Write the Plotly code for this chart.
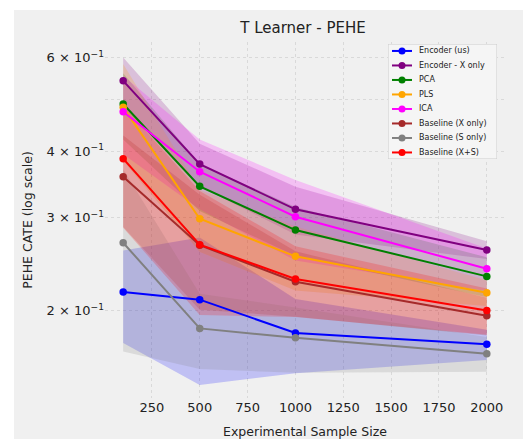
import plotly.graph_objects as go

sample_sizes = [100, 500, 1000, 2000]

series_names = ["Encoder (us)", "Encoder - X only", "PCA", "PLS", "ICA",
                "Baseline (X only)", "Baseline (S only)", "Baseline (X+S)"]
series_colors = ["#0000ff", "#800080", "#008000", "#ffa500", "#ff00ff",
                 "#a52a2a", "#808080", "#ff0000"]

enc_us_mean = [0.217, 0.210, 0.1817, 0.173]
enc_us_std = [0.043, 0.065, 0.029, 0.0114]
enc_x_mean = [0.5425, 0.378, 0.3107, 0.2604]
enc_x_std = [0.058, 0.035, 0.032, 0.010]
pca_mean = [0.4905, 0.3433, 0.284, 0.2323]
pca_std = [0.07, 0.035, 0.030, 0.020]
pls_mean = [0.4835, 0.2983, 0.2534, 0.2164]
pls_std = [0.10, 0.040, 0.035, 0.012]
ica_mean = [0.4745, 0.3657, 0.3009, 0.2401]
ica_std = [0.08, 0.055, 0.052, 0.022]
base_x_mean = [0.3579, 0.266, 0.227, 0.1958]
base_x_std = [0.07, 0.065, 0.032, 0.016]
base_s_mean = [0.2688, 0.1854, 0.178, 0.1661]
base_s_std = [0.101, 0.030, 0.025, 0.0125]
base_xs_mean = [0.387, 0.2665, 0.2297, 0.2004]
base_xs_std = [0.10, 0.070, 0.035, 0.020]

means = [enc_us_mean, enc_x_mean, pca_mean, pls_mean, ica_mean,
         base_x_mean, base_s_mean, base_xs_mean]
stds = [enc_us_std, enc_x_std, pca_std, pls_std, ica_std,
        base_x_std, base_s_std, base_xs_std]

y_tick_vals = [0.2, 0.3, 0.4, 0.5, 0.6]
y_tick_text = ["2 × 10<sup>−1</sup>", "3 × 10<sup>−1</sup>", "4 × 10<sup>−1</sup>",
               "", "6 × 10<sup>−1</sup>"]
x_tick_vals = [250, 500, 750, 1000, 1250, 1500, 1750, 2000]

# ---- layout constants (pixels) ----
W, H = 523, 439
PL, PR, PT, PB = 105, 505, 42, 398          # plot area
LEG_L, LEG_R, LEG_T, LEG_B = 388, 497, 44, 159  # legend box


def rgba(hex_color, a):
    h = hex_color.lstrip("#")
    r, g, b = int(h[0:2], 16), int(h[2:4], 16), int(h[4:6], 16)
    return f"rgba({r},{g},{b},{a})"


def px_x(p):
    return (p - PL) / (PR - PL)


def px_y(p):
    return 1 - (p - PT) / (PB - PT)


fig = go.Figure()

# Uncertainty bands
for name, color, m, s in zip(series_names, series_colors, means, stds):
    upper = [a + b for a, b in zip(m, s)]
    lower = [a - b for a, b in zip(m, s)]
    fig.add_trace(go.Scatter(
        x=sample_sizes + sample_sizes[::-1],
        y=upper + lower[::-1],
        fill="toself", fillcolor=rgba(color, 0.2),
        line=dict(width=0), mode="lines",
        showlegend=False, hoverinfo="skip"))

# Mean lines
for name, color, m in zip(series_names, series_colors, means):
    fig.add_trace(go.Scatter(
        x=sample_sizes, y=m, name=name, mode="lines+markers",
        line=dict(color=color, width=2),
        marker=dict(color=color, size=7.5), showlegend=False))

# ---- compact legend drawn on an auxiliary (hidden) subplot ----
font_family = "DejaVu Sans, Liberation Sans, sans-serif"
n = len(series_names)
for i, (name, color) in enumerate(zip(series_names, series_colors)):
    fig.add_trace(go.Scatter(
        x=[4, 24], y=[i, i], mode="lines", line=dict(color=color, width=2),
        xaxis="x2", yaxis="y2", showlegend=False, hoverinfo="skip"))
    fig.add_trace(go.Scatter(
        x=[14], y=[i], mode="markers", marker=dict(color=color, size=7),
        xaxis="x2", yaxis="y2", showlegend=False, hoverinfo="skip"))
    fig.add_annotation(x=29, y=i, xref="x2", yref="y2", text=name,
                       showarrow=False, xanchor="left", yanchor="middle",
                       font=dict(size=8, color="#222222", family=font_family))

fig.add_shape(type="rect", xref="x2", yref="y2",
              x0=0, x1=LEG_R - LEG_L, y0=-0.48, y1=n - 0.55,
              fillcolor="rgba(246,246,246,0.85)",
              line=dict(color="#cccccc", width=1), layer="below")

# figure background (matplotlib figure patch)
fig.add_shape(type="rect", xref="paper", yref="paper",
              x0=px_x(14), x1=px_x(W), y0=px_y(H), y1=px_y(10),
              fillcolor="#f0f0f0", line=dict(width=0), layer="below")

grid_color = "#d9d9d9"

fig.update_layout(
    width=W, height=H,
    margin=dict(l=PL, r=W - PR, t=PT, b=H - PB, autoexpand=False),
    paper_bgcolor="white",
    plot_bgcolor="#f0f0f0",
    font=dict(family=font_family, color="#222222", size=13),
    title=dict(text="T Learner - PEHE", x=303 / W, xanchor="center",
               y=1 - 28 / H, yanchor="middle", yref="container",
               font=dict(size=15, color="#222222")),
    xaxis=dict(range=[5, 2095], tickvals=x_tick_vals,
               ticktext=[str(v) for v in x_tick_vals],
               showgrid=True, gridcolor=grid_color, griddash="dot", gridwidth=1,
               zeroline=False, showline=False, ticks="", automargin=False,
               tickfont=dict(size=13),
               title=dict(text="Experimental Sample Size", standoff=14,
                          font=dict(size=12.5))),
    yaxis=dict(type="log", range=[-0.863, -0.1925],
               tickvals=y_tick_vals, ticktext=y_tick_text,
               showgrid=True, gridcolor=grid_color, griddash="dot", gridwidth=1,
               zeroline=False, showline=False, ticks="", automargin=False,
               tickfont=dict(size=13),
               title=dict(text="PEHE CATE (log scale)", standoff=11,
                          font=dict(size=12.5))),
    xaxis2=dict(domain=[px_x(LEG_L), px_x(LEG_R)], range=[0, LEG_R - LEG_L],
                visible=False, fixedrange=True),
    yaxis2=dict(domain=[px_y(LEG_B), px_y(LEG_T)], range=[n - 0.55, -0.48],
                visible=False, fixedrange=True),
    showlegend=False,
)

fig.write_html("out.html",
               config={"displayModeBar": False},
               post_script="document.body.style.margin='0px';"
                           "document.body.style.overflow='hidden';")
